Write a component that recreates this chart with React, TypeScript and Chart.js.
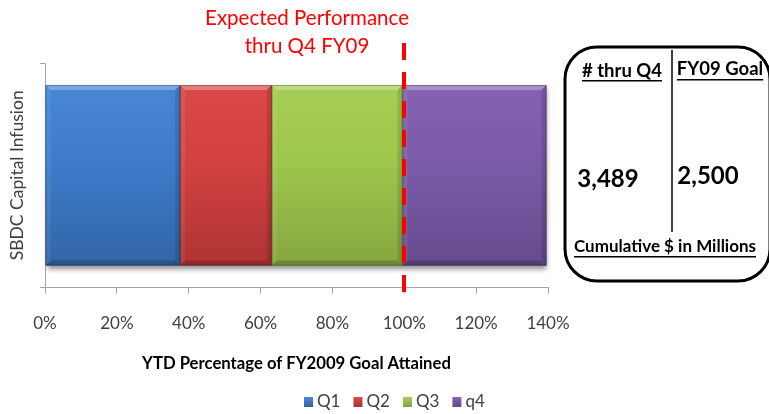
import React, { useEffect, useRef } from 'react';
import { Chart, registerables } from 'chart.js';

Chart.register(...registerables);

// Data
const categories = ['SBDC Capital Infusion'];
const seriesLabels = ['Q1', 'Q2', 'Q3', 'q4'];
const q1Values = [37.6];
const q2Values = [25.5];
const q3Values = [36.4];
const q4Values = [40.06];
const xTickValues = [0, 20, 40, 60, 80, 100, 120, 140];
const expectedPct = 100;
const expectedLabel = ['Expected Performance', 'thru Q4 FY09'];
const xAxisTitle = 'YTD Percentage of FY2009 Goal Attained';
const boxHeaders = ['# thru Q4', 'FY09 Goal'];
const boxValues = ['3,489', '2,500'];
const boxFooter = 'Cumulative $ in Millions';

const FONT = 'Lato, "Open Sans", sans-serif';

// light / mid / dark shades for each quarter
const shades = [
  ['#4b8ad8', '#3d7bca', '#30619f'],
  ['#dc4b49', '#d24140', '#a53130'],
  ['#a9d056', '#9dc64c', '#819f3c'],
  ['#8864b5', '#7b5aa8', '#624888'],
];

function fillFor(i: number) {
  return (ctx: any) => {
    const chart = ctx.chart;
    const area = chart.chartArea;
    if (!area) return shades[i][1];
    const g = chart.ctx.createLinearGradient(0, area.top, 0, area.bottom);
    g.addColorStop(0, shades[i][0]);
    g.addColorStop(0.45, shades[i][1]);
    g.addColorStop(1, shades[i][2]);
    return g;
  };
}

function barRect(el: any) {
  const left = Math.min(el.base, el.x);
  const right = Math.max(el.base, el.x);
  const top = el.y - el.height / 2;
  const bottom = el.y + el.height / 2;
  return { left, right, top, bottom };
}

// soft drop shadow under the stacked bar
const shadowPlugin = {
  id: 'barShadow',
  beforeDatasetsDraw(chart: any) {
    const metas = chart.getSortedVisibleDatasetMetas();
    if (!metas.length) return;
    const first = barRect(metas[0].data[0]);
    const last = barRect(metas[metas.length - 1].data[0]);
    const ctx = chart.ctx;
    ctx.save();
    ctx.shadowColor = 'rgba(0,0,0,0.45)';
    ctx.shadowBlur = 5;
    ctx.shadowOffsetY = 3;
    ctx.shadowOffsetX = 1;
    ctx.fillStyle = '#777';
    ctx.fillRect(first.left, first.top, last.right - first.left, first.bottom - first.top);
    ctx.restore();
  },
};

// bevelled edges on every bar segment
const bevelPlugin = {
  id: 'bevel',
  afterDatasetsDraw(chart: any) {
    const ctx = chart.ctx;
    const b = 5;
    chart.getSortedVisibleDatasetMetas().forEach((meta: any) => {
      meta.data.forEach((el: any) => {
        const { left, right, top, bottom } = barRect(el);
        const poly = (pts: number[][], color: string) => {
          ctx.beginPath();
          ctx.moveTo(pts[0][0], pts[0][1]);
          for (let k = 1; k < pts.length; k++) ctx.lineTo(pts[k][0], pts[k][1]);
          ctx.closePath();
          ctx.fillStyle = color;
          ctx.fill();
        };
        ctx.save();
        poly([[left, top], [right, top], [right - b, top + b], [left + b, top + b]], 'rgba(255,255,255,0.28)');
        poly([[left, bottom], [right, bottom], [right - b, bottom - b], [left + b, bottom - b]], 'rgba(0,0,0,0.18)');
        poly([[left, top], [left + b, top + b], [left + b, bottom - b], [left, bottom]], 'rgba(255,255,255,0.08)');
        poly([[right, top], [right - b, top + b], [right - b, bottom - b], [right, bottom]], 'rgba(0,0,0,0.12)');
        ctx.strokeStyle = 'rgba(0,0,0,0.25)';
        ctx.lineWidth = 1;
        ctx.strokeRect(left + 0.5, top + 0.5, right - left - 1, bottom - top - 1);
        ctx.restore();
      });
    });
  },
};

// dashed goal marker with its caption
const goalPlugin = {
  id: 'goalLine',
  afterDatasetsDraw(chart: any) {
    const ctx = chart.ctx;
    const x = Math.round(chart.scales.x.getPixelForValue(expectedPct));
    const area = chart.chartArea;
    ctx.save();
    ctx.strokeStyle = '#ff0000';
    ctx.lineWidth = 4;
    ctx.setLineDash([17, 12]);
    ctx.beginPath();
    ctx.moveTo(x, area.top - 20);
    ctx.lineTo(x, area.bottom + 5);
    ctx.stroke();
    ctx.setLineDash([]);
    ctx.fillStyle = '#ff0000';
    ctx.font = `20.5px ${FONT}`;
    ctx.textAlign = 'center';
    ctx.textBaseline = 'middle';
    ctx.fillText(expectedLabel[0], 307, 18);
    ctx.fillText(expectedLabel[1], 307, 46);
    ctx.restore();
  },
};

function underlined(ctx: CanvasRenderingContext2D, text: string, cx: number, cy: number, lineY: number) {
  ctx.fillText(text, cx, cy);
  const w = ctx.measureText(text).width;
  ctx.fillRect(cx - w / 2, lineY, w, 1.5);
}

// summary box at the right
const boxPlugin = {
  id: 'summaryBox',
  afterDraw(chart: any) {
    const ctx = chart.ctx;
    ctx.save();
    const x0 = 565, y0 = 47, x1 = 770, y1 = 281, r = 32;
    ctx.strokeStyle = '#000';
    ctx.lineWidth = 3;
    ctx.beginPath();
    ctx.roundRect(x0, y0, x1 - x0, y1 - y0, r);
    ctx.stroke();
    ctx.lineWidth = 1.5;
    ctx.beginPath();
    ctx.moveTo(672, 50);
    ctx.lineTo(672, 232);
    ctx.stroke();

    ctx.fillStyle = '#000';
    ctx.textAlign = 'center';
    ctx.textBaseline = 'middle';
    ctx.font = `bold 18.5px ${FONT}`;
    underlined(ctx, boxHeaders[0], 622, 71, 80);
    underlined(ctx, boxHeaders[1], 720, 69, 79);
    ctx.font = `bold 24px ${FONT}`;
    ctx.fillText(boxValues[0], 608, 179);
    ctx.fillText(boxValues[1], 708, 176);
    ctx.font = `bold 17px ${FONT}`;
    underlined(ctx, boxFooter, 665, 247, 256);
    ctx.restore();
  },
};

// legend row under the axis title
const legendPlugin = {
  id: 'quarterLegend',
  afterDraw(chart: any) {
    const ctx = chart.ctx;
    ctx.save();
    ctx.font = `17px ${FONT}`;
    ctx.textBaseline = 'middle';
    ctx.textAlign = 'left';
    const y = 402;
    let x = 304;
    chart.data.datasets.forEach((ds: any, i: number) => {
      const g = ctx.createLinearGradient(0, y - 5, 0, y + 5);
      g.addColorStop(0, shades[i][0]);
      g.addColorStop(1, shades[i][2]);
      ctx.fillStyle = g;
      ctx.fillRect(x, y - 5, 9, 10);
      ctx.fillStyle = '#404040';
      ctx.fillText(ds.label, x + 13, y);
      x += 13 + ctx.measureText(ds.label).width + 13;
    });
    ctx.restore();
  },
};

export default function App() {
  const canvasRef = useRef<HTMLCanvasElement | null>(null);

  useEffect(() => {
    document.body.style.margin = '0';
    const canvas = canvasRef.current;
    if (!canvas) return;
    const seriesValues = [q1Values, q2Values, q3Values, q4Values];
    const chart = new Chart(canvas, {
      type: 'bar',
      data: {
        labels: categories,
        datasets: seriesLabels.map((label, i) => ({
          label,
          data: seriesValues[i],
          backgroundColor: fillFor(i),
          borderWidth: 0,
          barPercentage: 0.804,
          categoryPercentage: 1,
        })),
      },
      options: {
        indexAxis: 'y',
        responsive: false,
        animation: false,
        devicePixelRatio: 1,
        layout: { padding: { top: 63, right: 221, bottom: 36, left: 0 } },
        plugins: {
          legend: { display: false },
          tooltip: { enabled: false },
          title: { display: false },
        },
        scales: {
          x: {
            stacked: true,
            min: xTickValues[0],
            max: xTickValues[xTickValues.length - 1],
            afterBuildTicks: (scale: any) => {
              scale.ticks = xTickValues.map((v) => ({ value: v }));
            },
            ticks: {
              callback: (v: any) => `${v}%`,
              font: { family: FONT, size: 17 },
              color: '#404040',
              padding: 20,
            },
            grid: { drawOnChartArea: false, tickLength: 6, color: '#a6a6a6' },
            border: { color: '#a6a6a6' },
            title: {
              display: true,
              text: xAxisTitle,
              font: { family: FONT, size: 16.7, weight: 'bold' },
              color: '#000',
              padding: { top: 0, bottom: 4 },
            },
          },
          y: {
            stacked: true,
            ticks: { display: false },
            grid: { drawOnChartArea: false, tickLength: 5, offset: true, color: '#a6a6a6' },
            border: { color: '#a6a6a6' },
            title: {
              display: true,
              text: categories[0],
              font: { family: FONT, size: 17.5 },
              color: '#404040',
              padding: { top: 7, bottom: 0 },
            },
            afterFit: (scale: any) => {
              scale.width = 45;
            },
          },
        },
      },
      plugins: [shadowPlugin, bevelPlugin, goalPlugin, boxPlugin, legendPlugin],
    } as any);
    return () => chart.destroy();
  }, []);

  return (
    <div style={{ width: 769, height: 414, background: '#fff' }}>
      <canvas ref={canvasRef} width={769} height={414} />
    </div>
  );
}
